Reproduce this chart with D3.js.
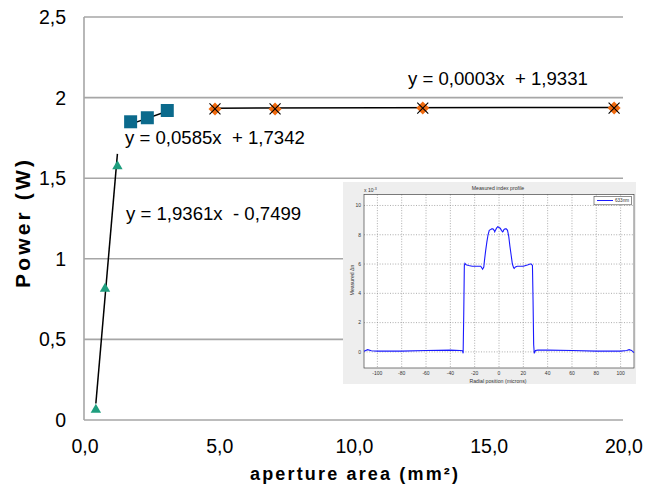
<!DOCTYPE html>
<html>
<head>
<meta charset="utf-8">
<script src="https://cdn.jsdelivr.net/npm/d3@7/dist/d3.min.js"></script>
<style>
  html, body { margin: 0; padding: 0; background: #fff; }
  svg { display: block; font-family: "Liberation Sans", Arial, sans-serif; }
</style>
</head>
<body>
<svg id="chart" width="645" height="489"></svg>
<script>
// ---------------- DATA ----------------
// main chart: three measurement series (aperture area mm², power W)
const triangleX = [0.44, 0.78, 1.24];
const triangleY = [0.07, 0.82, 1.58];
const squareX = [1.73, 2.35, 3.09];
const squareY = [1.85, 1.875, 1.92];
const orangeX = [4.86, 7.09, 12.57, 19.67];
const orangeY = [1.93, 1.93, 1.935, 1.935];

// linear trendlines (slope, intercept) and their labels
const trendSlopes = [1.9361, 0.0585, 0.0003];
const trendIntercepts = [-0.7499, 1.7342, 1.9331];
const trendLabels = ["y = 1,9361x  - 0,7499", "y = 0,0585x  + 1,7342", "y = 0,0003x  + 1,9331"];

// axes ticks
const xTicks = [0, 5, 10, 15, 20];
const yTicks = [0, 0.5, 1, 1.5, 2, 2.5];

// inset: measured index profile (radial position µm, Δn ×10^-3)
const radialPos = [-111, -108, -105, -100, -90, -80, -60, -40, -32, -30, -29.5, -29, -28.5, -28, -27, -25, -22, -20, -17, -15,
  -13.5, -12.5, -12, -11, -10, -9, -8, -7, -6, -5, -4, -3.5, -3, -2, -1, 0, 1, 2, 3, 3.5, 4, 5, 6, 7, 8, 9, 10, 11, 12,
  12.5, 13.5, 15, 17, 20, 22, 24, 25.5, 26.5, 27.5, 28, 28.5, 29, 30, 32, 40, 60, 80, 100, 105, 107, 109, 111];
const deltaN = [0.05, 0.15, 0.08, 0.05, 0.05, 0.05, 0.1, 0.12, 0.1, 0.08, -0.1, 2.5, 5.9, 6.05, 5.95, 5.9, 5.85, 5.85, 5.85, 5.85,
  5.65, 5.8, 6.2, 6.9, 7.5, 8.0, 8.3, 8.35, 8.4, 8.4, 8.3, 8.2, 8.3, 8.45, 8.55, 8.5, 8.45, 8.3, 8.2, 8.25, 8.35, 8.4, 8.4, 8.3, 7.9, 7.2, 6.6, 6.0, 5.75,
  5.7, 5.8, 5.85, 5.85, 5.85, 5.9, 5.95, 6.0, 6.0, 5.9, 3.5, 0.5, -0.1, 0.1, 0.12, 0.12, 0.1, 0.05, 0.05, 0.1, 0.15, 0.1, -0.05];
const insetXTicks = [-100, -80, -60, -40, -20, 0, 20, 40, 60, 80, 100];
const insetYTicks = [0, 2, 4, 6, 8, 10];
const insetLegend = ["633nm"];

// ---------------- CHART ----------------
const svg = d3.select("#chart");
svg.append("rect").attr("width", 645).attr("height", 489).attr("fill", "#fff");

const loc = d3.formatLocale({decimal: ",", thousands: ".", grouping: [3], currency: ["", ""]});
const fmtX = loc.format(".1f");
const fmtY = loc.format("~g");

const x = d3.scaleLinear().domain([0, 20]).range([84, 623]);
const y = d3.scaleLinear().domain([0, 2.5]).range([420, 17]);

const gridColor = "#a6a6a6";
// horizontal gridlines
svg.append("g").selectAll("line").data(yTicks.filter(d => d > 0)).join("line")
  .attr("x1", x(0)).attr("x2", x(20))
  .attr("y1", d => y(d)).attr("y2", d => y(d))
  .attr("stroke", gridColor).attr("stroke-width", 1.6);
// axes lines
svg.append("line").attr("x1", x(0)).attr("x2", x(0)).attr("y1", y(0)).attr("y2", y(2.5))
  .attr("stroke", gridColor).attr("stroke-width", 1.6);
svg.append("line").attr("x1", x(0)).attr("x2", x(20)).attr("y1", y(0)).attr("y2", y(0))
  .attr("stroke", gridColor).attr("stroke-width", 1.6);

// tick labels
svg.append("g").selectAll("text").data(yTicks).join("text")
  .attr("x", 66).attr("y", d => y(d)).attr("dy", "0.36em")
  .attr("text-anchor", "end").attr("font-size", 19.5).attr("fill", "#000")
  .text(d => fmtY(d));
svg.append("g").selectAll("text").data(xTicks).join("text")
  .attr("x", d => x(d) + 1).attr("y", 453)
  .attr("text-anchor", "middle").attr("font-size", 19.5).attr("fill", "#000")
  .text(d => fmtX(d));

// axis titles
svg.append("text").attr("x", 354).attr("y", 480).attr("text-anchor", "middle")
  .attr("font-size", 18).attr("font-weight", "bold")
  .attr("textLength", 208).attr("lengthAdjust", "spacing")
  .text("aperture area (mm²)");
svg.append("text").attr("transform", "translate(30,224) rotate(-90)").attr("text-anchor", "middle")
  .attr("font-size", 21).attr("font-weight", "bold")
  .attr("textLength", 128).attr("lengthAdjust", "spacing")
  .text("Power (W)");

// ---------------- INSET ----------------
const ix0 = 343, iy0 = 182, iw = 293, ih = 202;
const inset = svg.append("g");
inset.append("rect").attr("x", ix0).attr("y", iy0).attr("width", iw).attr("height", ih).attr("fill", "#eeeeee");
const ixs = d3.scaleLinear().domain([-111, 111]).range([364, 634]);
const iys = d3.scaleLinear().domain([-1.1, 10.75]).range([368, 194.5]);
inset.append("rect").attr("x", ixs(-111)).attr("y", iys(10.75))
  .attr("width", ixs(111) - ixs(-111)).attr("height", iys(-1.1) - iys(10.75))
  .attr("fill", "#fff");
// grid
inset.append("g").selectAll("line").data(insetXTicks).join("line")
  .attr("x1", d => ixs(d)).attr("x2", d => ixs(d)).attr("y1", iys(10.75)).attr("y2", iys(-1.1))
  .attr("stroke", "#8a8a8a").attr("stroke-width", 0.7).attr("stroke-dasharray", "1,1.6");
inset.append("g").selectAll("line").data(insetYTicks).join("line")
  .attr("x1", ixs(-111)).attr("x2", ixs(111)).attr("y1", d => iys(d)).attr("y2", d => iys(d))
  .attr("stroke", "#8a8a8a").attr("stroke-width", 0.7).attr("stroke-dasharray", "1,1.6");
inset.append("rect").attr("x", ixs(-111)).attr("y", iys(10.75))
  .attr("width", ixs(111) - ixs(-111)).attr("height", iys(-1.1) - iys(10.75))
  .attr("fill", "none").attr("stroke", "#444").attr("stroke-width", 0.7);
// ticks labels
inset.append("g").selectAll("text").data(insetXTicks).join("text")
  .attr("x", d => ixs(d)).attr("y", 375).attr("text-anchor", "middle")
  .attr("font-size", 5).attr("fill", "#333").text(d => d);
inset.append("g").selectAll("text").data(insetYTicks).join("text")
  .attr("x", 361).attr("y", d => iys(d)).attr("dy", "0.35em").attr("text-anchor", "end")
  .attr("font-size", 5).attr("fill", "#333").text(d => d);
inset.append("text").attr("x", 498).attr("y", 190).attr("text-anchor", "middle")
  .attr("font-size", 5.2).attr("fill", "#333").text("Measured index profile");
inset.append("text").attr("x", 498).attr("y", 382.5).attr("text-anchor", "middle")
  .attr("font-size", 5.2).attr("fill", "#333").text("Radial position (microns)");
inset.append("text").attr("transform", "translate(354,280) rotate(-90)").attr("text-anchor", "middle")
  .attr("font-size", 5.2).attr("fill", "#333").text("Measured Δn");
const sup = inset.append("text").attr("x", 364).attr("y", 192).attr("font-size", 5).attr("fill", "#333");
sup.append("tspan").text("x 10");
sup.append("tspan").attr("dy", -2.5).attr("font-size", 3.6).text("-3");
// profile line
const profLine = d3.line().x((d, i) => ixs(radialPos[i])).y(d => iys(d));
inset.append("path").datum(deltaN).attr("d", profLine)
  .attr("fill", "none").attr("stroke", "#1a1aff").attr("stroke-width", 1.1);
// legend
inset.append("rect").attr("x", 594).attr("y", 196.3).attr("width", 37.5).attr("height", 8.5)
  .attr("fill", "#fff").attr("stroke", "#444").attr("stroke-width", 0.6);
inset.append("line").attr("x1", 597).attr("x2", 613).attr("y1", 200.5).attr("y2", 200.5)
  .attr("stroke", "#1a1aff").attr("stroke-width", 1);
inset.append("text").attr("x", 615).attr("y", 202.3).attr("font-size", 4.6).attr("fill", "#333").text(insetLegend[0]);

// ---------------- TRENDLINES ----------------
const seriesX = [triangleX, squareX, orangeX];
svg.append("g").selectAll("line").data(trendSlopes).join("line")
  .attr("x1", (d, i) => x(d3.min(seriesX[i])))
  .attr("x2", (d, i) => x(d3.max(seriesX[i])))
  .attr("y1", (d, i) => y(d * d3.min(seriesX[i]) + trendIntercepts[i]))
  .attr("y2", (d, i) => y(d * d3.max(seriesX[i]) + trendIntercepts[i]))
  .attr("stroke", "#000").attr("stroke-width", 1.5);

// ---------------- MARKERS ----------------
// triangles
svg.append("g").selectAll("path").data(triangleX).join("path")
  .attr("transform", (d, i) => `translate(${x(d)},${y(triangleY[i])})`)
  .attr("d", "M0,-5 L5.2,4 L-5.2,4 Z").attr("fill", "#1e9e7e");
// squares
svg.append("g").selectAll("rect").data(squareX).join("rect")
  .attr("x", d => x(d) - 6.5).attr("y", (d, i) => y(squareY[i]) - 6.5)
  .attr("width", 13).attr("height", 13).attr("fill", "#0b6a8c");
// orange diamonds with x
const og = svg.append("g").selectAll("g").data(orangeX).join("g")
  .attr("transform", (d, i) => `translate(${x(d)},${y(orangeY[i])})`);
og.append("path").attr("d", "M0,-6.5 L6.5,0 L0,6.5 L-6.5,0 Z").attr("fill", "#f06a0f");
og.append("path").attr("d", "M-5.5,-5.5 L5.5,5.5 M5.5,-5.5 L-5.5,5.5").attr("stroke", "#000").attr("stroke-width", 1.1);

// trend labels
const labelPos = [[126, 220], [125, 144], [408, 85]];
svg.append("g").selectAll("text").data(trendLabels).join("text")
  .attr("x", (d, i) => labelPos[i][0]).attr("y", (d, i) => labelPos[i][1])
  .attr("font-size", 18.6).attr("fill", "#000").style("white-space", "pre")
  .text(d => d);
</script>
</body>
</html>
